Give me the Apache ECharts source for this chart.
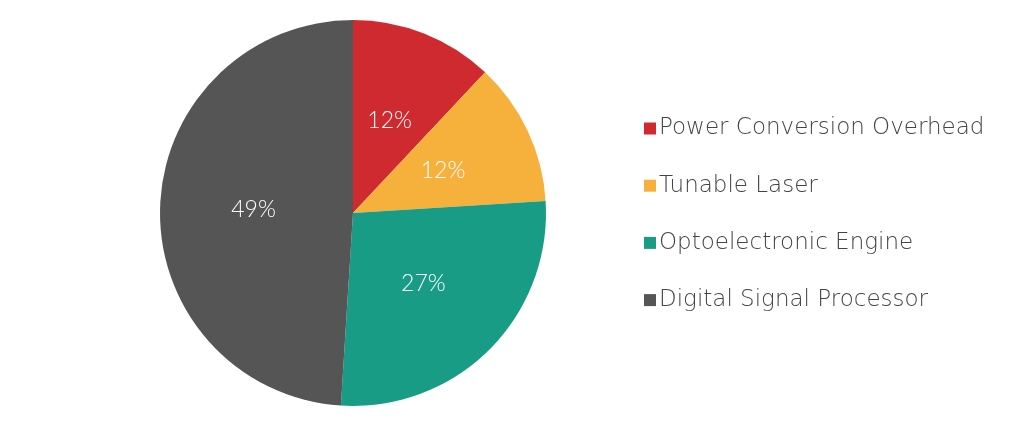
<!DOCTYPE html>
<html><head><meta charset="utf-8">
<script src="https://cdn.jsdelivr.net/npm/echarts@6/dist/echarts.min.js"></script>
<style>html,body{margin:0;padding:0;background:#fff}#c{width:1024px;height:428px}</style>
</head><body><div id="c"></div>
<script>
const categories = ['Power Conversion Overhead','Tunable Laser','Optoelectronic Engine','Digital Signal Processor'];
const values = [12, 12, 27, 49];
const colors = ['#CE2A2F','#F6B13D','#199C85','#555555'];
const chart = echarts.init(document.getElementById('c'));
chart.setOption({
  animation: false,
  color: colors,
  legend: {
    orient: 'vertical', left: 639, top: 112,
    itemWidth: 12, itemHeight: 12, itemGap: 34.2, icon: 'rect',
    textStyle: {fontFamily: 'DejaVu Sans', fontWeight: 200, fontSize: 23, color: '#444444', lineHeight: 22, padding:[0,0,0,-2]},
    data: categories
  },
  series: [{
    type: 'pie', center: [353, 213], radius: [0, 193], startAngle: 90, clockwise: true,
    percentPrecision: 0,
    label: {position: 'inside', formatter: '{d}%', color: '#fff', fontFamily: 'Lato', fontWeight: 300, fontSize: 23},
    labelLine: {show: false},
    itemStyle: {borderWidth: 0},
    emphasis: {disabled: true},
    data: categories.map((n, i) => ({name: n, value: values[i]}))
  }]
});
</script></body></html>
